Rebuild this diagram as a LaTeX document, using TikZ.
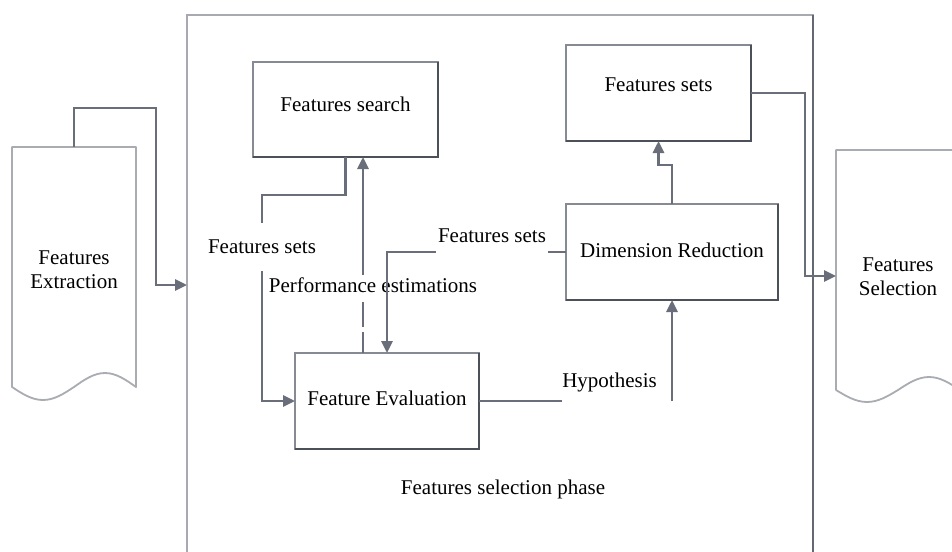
\documentclass[tikz,border=0pt]{standalone}
\usepackage{fontspec}
\setmainfont{Liberation Serif}
\usetikzlibrary{arrows.meta,calc}
\definecolor{linec}{HTML}{696E7A}
\definecolor{boxlight}{HTML}{868A93}
\definecolor{boxdark}{HTML}{4C5159}
\definecolor{docc}{HTML}{A9ACB1}
\definecolor{framel}{HTML}{A8AAAF}
\definecolor{framed}{HTML}{646871}
\begin{document}
\begin{tikzpicture}[x=1pt,y=-1pt,
  every node/.style={font=\fontsize{21}{24}\selectfont, text=black},
  box/.style={draw=boxlight, line width=2pt, fill=white, rectangle, inner sep=0pt, outer sep=0pt},
  boxedge/.style={draw=boxdark, line width=2.4pt},
  docarea/.style={rectangle, minimum width=124pt, minimum height=240pt, inner sep=0pt, outer sep=0pt},
  docline/.style={draw=docc, line width=1.8pt, line join=round},
  conn/.style={draw=linec, line width=2.8pt},
  arr/.style={conn, -{Triangle[length=12pt,width=11pt]}}
]
\clip (0,0) rectangle (952,551);
\fill[white] (0,0) rectangle (952,551);

% outer frame of the selection phase (open at the bottom)
\node[draw=framel, line width=2pt, minimum width=626pt, minimum height=550pt,
      inner sep=0pt, outer sep=0pt] (frame) at (500,290) {};
\draw[draw=framed, line width=2.4pt] (frame.north east) -- (frame.south east);

% document shapes
\node[docarea, label={[yshift=-3pt,align=center]center:Features\\Extraction}] (ext) at (74,267) {};
\draw[docline] (ext.south west) -- (ext.north west) -- (ext.north east) -- (ext.south east)
  sin ++(-31,-14) cos ++(-31,14) sin ++(-31,13) cos ++(-31,-13) -- cycle;

\node[docarea, label={[yshift=-7pt,align=center]center:Features\\Selection}] (sel) at (898,270) {};
\draw[docline] (sel.north east) -- (sel.north west) -- (sel.south west)
  sin ++(31,12) cos ++(31,-12) sin ++(31,-13) cos ++(31,13) -- cycle;

% process boxes
\node[box, minimum width=185pt, minimum height=95pt,
      label={[yshift=5pt]center:Features search}] (fs) at (345.5,109.5) {};
\node[box, minimum width=185pt, minimum height=96pt,
      label={[yshift=8pt]center:Features sets}] (fsets) at (658.5,93) {};
\node[box, minimum width=212pt, minimum height=96pt,
      label={[yshift=2pt]center:Dimension Reduction}] (dr) at (672,252) {};
\node[box, minimum width=184pt, minimum height=96pt,
      label={[yshift=3pt]center:Feature Evaluation}] (fe) at (387,401) {};
\foreach \n in {fs,fsets,dr,fe}
  \draw[boxedge] (\n.north east) -- (\n.south east) -- (\n.south west);

% connector labels
\node[inner xsep=2pt, inner ysep=17pt] (fsl) at (262,247) {Features sets};
\node[anchor=base, text depth=8pt, inner ysep=2pt] (perf) at (373,292) {Performance estimations};
\node[inner xsep=2pt] (fsm) at (492,236) {Features sets};
\node[inner xsep=0pt] (hyp) at (609.5,382) {Hypothesis};
\node (phase) at (503,489) {Features selection phase};

% connectors
\draw[arr] (ext.north) -- ++(0,-39) -| ($(frame.west)+(-31,-5)$) -- ($(frame.west)+(0,-5)$);
\draw[conn] (fs.south) -- ++(0,38) -| (fsl.north);
\draw[arr] (fsl.south) |- (fe.west);
\draw[conn, dash pattern=on 21pt off 5pt on 40pt] (fe.north -| 363,0) -- (perf.south -| 363,0);
\draw[arr] (perf.north -| 363,0) -- (fs.south -| 363,0);
\draw[conn] (dr.west) -- (dr.west -| fsm.east);
\draw[arr] (dr.west -| fsm.west) -| (fe.north);
\draw[conn] (fe.east) -- (fe.east -| hyp.west);
\draw[arr] (fe.east -| dr.south) -- (dr.south);
\draw[arr] (dr.north) -- ++(0,-39) -| (fsets.south);
\draw[arr] (fsets.east) -| ($(sel.west)+(-31,6)$) -- ($(sel.west)+(0,6)$);
\end{tikzpicture}
\end{document}
